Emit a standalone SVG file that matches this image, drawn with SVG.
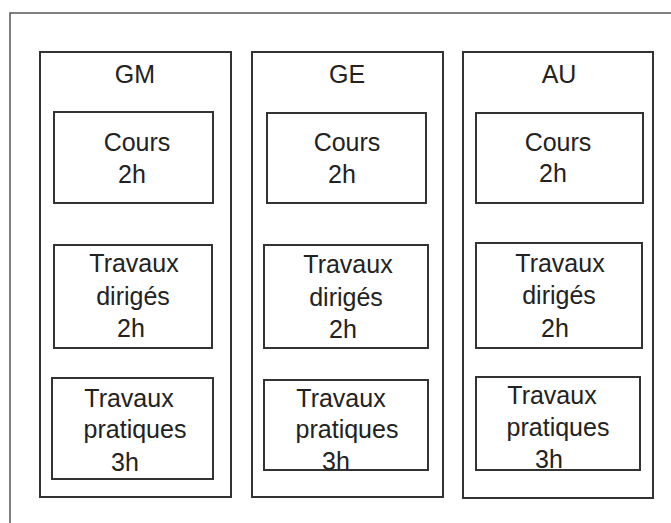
<svg xmlns="http://www.w3.org/2000/svg" width="671" height="523" viewBox="0 0 671 523">
<style>
.frame{fill:none;stroke:#555;stroke-width:1.5}
.col{fill:#fff;stroke:#333;stroke-width:2}
.box{fill:#fff;stroke:#333;stroke-width:2}
text{font-family:"Liberation Sans",Arial,sans-serif;font-size:25px;fill:#222;text-anchor:middle}
</style>
<rect width="671" height="523" fill="#fff"/>
<rect class="frame" x="10" y="13" width="700" height="560"/>
<g id="col-GM">
<rect class="col" x="40" y="52" width="191" height="445"/>
<text x="135" y="83">GM</text>
</g>
<g id="GM-cours">
<rect class="box" x="54" y="112" width="159" height="91"/>
<text x="137" y="151">Cours</text>
<text x="132" y="183">2h</text>
</g>
<g id="GM-td">
<rect class="box" x="54" y="245" width="158" height="103"/>
<text x="134" y="272">Travaux</text>
<text x="133" y="305">dirigés</text>
<text x="131" y="337">2h</text>
</g>
<g id="GM-tp">
<rect class="box" x="52" y="378" width="161" height="101"/>
<text x="129" y="407">Travaux</text>
<text x="135" y="438">pratiques</text>
<text x="125" y="471">3h</text>
</g>
<g id="col-GE">
<rect class="col" x="252" y="52" width="191" height="445"/>
<text x="347" y="83">GE</text>
</g>
<g id="GE-cours">
<rect class="box" x="267" y="113" width="159" height="90"/>
<text x="347" y="151">Cours</text>
<text x="342" y="183">2h</text>
</g>
<g id="GE-td">
<rect class="box" x="264" y="245" width="164" height="103"/>
<text x="348" y="273">Travaux</text>
<text x="346" y="306">dirigés</text>
<text x="343" y="338">2h</text>
</g>
<g id="GE-tp">
<rect class="box" x="264" y="380" width="164" height="90"/>
<text x="341" y="407">Travaux</text>
<text x="347" y="438">pratiques</text>
<text x="336" y="470">3h</text>
</g>
<g id="col-AU">
<rect class="col" x="463" y="52" width="190" height="446"/>
<text x="559" y="83">AU</text>
</g>
<g id="AU-cours">
<rect class="box" x="476" y="113" width="167" height="90"/>
<text x="558" y="151">Cours</text>
<text x="553" y="182">2h</text>
</g>
<g id="AU-td">
<rect class="box" x="476" y="243" width="166" height="105"/>
<text x="560" y="272">Travaux</text>
<text x="559" y="304">dirigés</text>
<text x="555" y="337">2h</text>
</g>
<g id="AU-tp">
<rect class="box" x="476" y="377" width="164" height="93"/>
<text x="552" y="404">Travaux</text>
<text x="558" y="436">pratiques</text>
<text x="549" y="468">3h</text>
</g>
<g id="connectors"/>
</svg>
